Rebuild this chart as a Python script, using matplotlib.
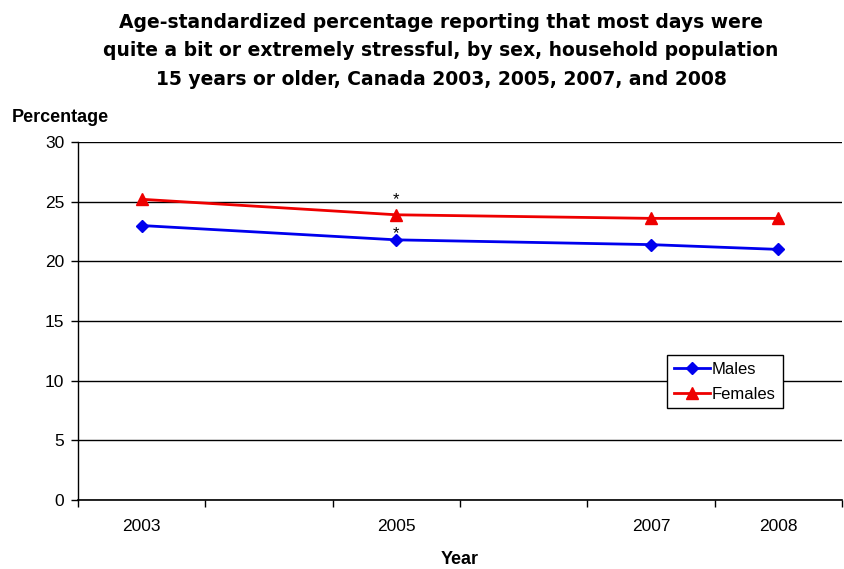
import matplotlib
matplotlib.use("Agg")
import matplotlib.pyplot as plt

years = [2003, 2005, 2007, 2008]
year_labels = ["2003", "2005", "2007", "2008"]
males = [23.0, 21.8, 21.4, 21.0]
females = [25.2, 23.9, 23.6, 23.6]
significant_2005 = "*"

plt.rcParams["font.family"] = ["Liberation Sans", "DejaVu Sans"]

fig = plt.figure(figsize=(8.44, 5.69), dpi=100)
ax = fig.add_axes([78 / 844, 1 - 500 / 569, (842 - 78) / 844, (500 - 142) / 569])

ax.plot(years, males, color="#0000ee", lw=2, marker="D", ms=6.5, label="Males", zorder=3)
ax.plot(years, females, color="#ee0000", lw=2, marker="^", ms=8, label="Females", zorder=3)

# significance markers on 2005 estimates
ax.text(2005, females[1] + 1.3, significant_2005, ha="center", va="center",
        fontsize=12, zorder=4)
ax.text(2005, males[1] + 0.5, significant_2005, ha="center", va="center",
        fontsize=12, zorder=4)

ax.set_xlim(2002.5, 2008.47)
ax.set_ylim(0, 30)
ax.set_yticks(range(0, 31, 5))
ax.yaxis.grid(True, color="black", lw=1)
ax.set_axisbelow(True)

ax.set_xticks([2002.5 + i for i in range(7)])
ax.set_xticklabels([])
ax.set_xticks(years, minor=True)
ax.set_xticklabels(year_labels, minor=True)
ax.tick_params(axis="x", which="minor", length=0, pad=14, labelsize=12.5)
ax.tick_params(axis="x", which="major", length=5, width=1, color="black")
ax.tick_params(axis="y", length=5, width=1, labelsize=12.5, pad=5)

for s in ["top", "right"]:
    ax.spines[s].set_visible(False)
ax.spines["left"].set_linewidth(1)
ax.spines["bottom"].set_linewidth(1.2)

ax.set_xlabel("Year", fontweight="bold", fontsize=13, labelpad=12)
fig.text(12 / 844, 1 - 117 / 569, "Percentage", fontweight="bold", fontsize=13,
         ha="left", va="center")

fig.text(441 / 844, 1 - 51 / 569,
         "Age-standardized percentage reporting that most days were\n"
         "quite a bit or extremely stressful, by sex, household population\n"
         "15 years or older, Canada 2003, 2005, 2007, and 2008",
         ha="center", va="center", fontweight="bold", fontsize=13.5, linespacing=1.62,
         family=["DejaVu Sans"])

leg = ax.legend(loc="upper left", bbox_to_anchor=((667 - 78) / 764, (500 - 355) / 358),
                frameon=True, fancybox=False, edgecolor="black", framealpha=1,
                fontsize=12, handlelength=2.2, handletextpad=0.1, borderpad=0.4,
                labelspacing=0.6, borderaxespad=0)
leg.get_frame().set_linewidth(1)

fig.savefig("out.png", dpi=100)
